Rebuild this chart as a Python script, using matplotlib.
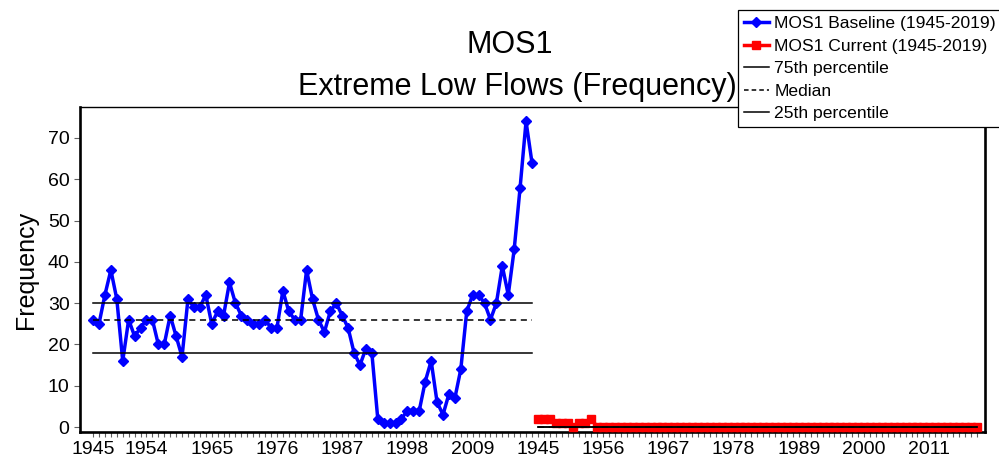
import numpy as np
import matplotlib
matplotlib.use("Agg")
import matplotlib.pyplot as plt
from matplotlib.lines import Line2D

plt.rcParams['font.family'] = ['Liberation Sans', 'DejaVu Sans']

# Datos: frecuencia anual de caudales extremos bajos (1945-2019)
years = list(range(1945, 2020))
baseline = [26, 25, 32, 38, 31, 16, 26, 22, 24, 26, 26, 20, 20, 27, 22, 17, 31, 29, 29, 32, 25, 28, 27, 35, 30,
            27, 26, 25, 25, 26, 24, 24, 33, 28, 26, 26, 38, 31, 26, 23, 28, 30, 27, 24, 18, 15, 19, 18, 2, 1,
            1, 1, 2, 4, 4, 4, 11, 16, 6, 3, 8, 7, 14, 28, 32, 32, 30, 26, 30, 39, 32, 43, 58, 74, 64]
current = [2, 2, 2, 1, 1, 1, 0, 1, 1, 2, 0, 0, 0, 0, 0, 0, 0, 0, 0, 0, 0, 0, 0, 0, 0,
           0, 0, 0, 0, 0, 0, 0, 0, 0, 0, 0, 0, 0, 0, 0, 0, 0, 0, 0, 0, 0, 0, 0, 0, 0,
           0, 0, 0, 0, 0, 0, 0, 0, 0, 0, 0, 0, 0, 0, 0, 0, 0, 0, 0, 0, 0, 0, 0, 0, 0]
base_tick_years = [1945, 1954, 1965, 1976, 1987, 1998, 2009]
cur_tick_years = [1945, 1956, 1967, 1978, 1989, 2000, 2011]

n = len(years)
x_base = np.arange(n)
x_cur = np.arange(n, 2 * n)

fig = plt.figure(figsize=(9.99, 4.70), dpi=100)
ax = fig.add_axes([0.0801, 0.0809, 0.906, 0.6915])

ax.plot(x_base, baseline, color='#0000ff', lw=2.5, marker='D', ms=5, zorder=3)
ax.plot(x_cur, current, color='#ff0000', lw=2.5, marker='s', ms=6, zorder=3)

# Percentiles de cada serie
for xs, vals in [(x_base, baseline), (x_cur, current)]:
    p25, p50, p75 = np.percentile(vals, [25, 50, 75])
    ax.plot([xs[0], xs[-1]], [p75, p75], color='black', lw=1.1, zorder=4)
    ax.plot([xs[0], xs[-1]], [p50, p50], color='black', lw=1.1, ls=(0, (4, 3)), zorder=4)
    ax.plot([xs[0], xs[-1]], [p25, p25], color='black', lw=1.1, zorder=4)

ax.set_xlim(-2.2, 2 * n + 0.4)
ax.set_ylim(-1.2, 77.5)
ax.set_yticks(range(0, 80, 10))

tick_pos = [years.index(y) for y in base_tick_years] + [n + years.index(y) for y in cur_tick_years]
ax.set_xticks(tick_pos)
ax.set_xticklabels([str(y) for y in base_tick_years + cur_tick_years])
ax.set_xticks(np.arange(2 * n), minor=True)

ax.tick_params(axis='both', which='both', direction='out', color='#606060', width=0.8)
ax.tick_params(axis='x', which='both', length=3.6, pad=3, labelsize=14)
ax.tick_params(axis='y', length=4.5, pad=3, labelsize=14)

for side in ['left', 'bottom', 'right']:
    ax.spines[side].set_linewidth(1.9)
ax.spines['top'].set_linewidth(1.0)

ax.set_ylabel('Frequency', fontsize=18)
ax.yaxis.set_label_coords(-0.046, 0.5)

fig.text(0.5105, 0.887, 'MOS1', ha='center', va='baseline', fontsize=22)
fig.text(0.5175, 0.798, 'Extreme Low Flows (Frequency)', ha='center', va='baseline', fontsize=22)

handles = [
    Line2D([], [], color='#0000ff', lw=2.5, marker='D', ms=5),
    Line2D([], [], color='#ff0000', lw=2.5, marker='s', ms=6),
    Line2D([], [], color='black', lw=1.1),
    Line2D([], [], color='black', lw=1.1, ls=(0, (3, 2))),
    Line2D([], [], color='black', lw=1.1),
]
labels = ['MOS1 Baseline (1945-2019)', 'MOS1 Current (1945-2019)',
          '75th percentile', 'Median', '25th percentile']
leg = fig.legend(handles, labels, loc='upper left', bbox_to_anchor=(738 / 999, 1 - 10 / 470),
                 fontsize=12.6, fancybox=False, edgecolor='black', framealpha=1,
                 borderpad=0.33, handlelength=1.45, handletextpad=0.3, labelspacing=0.42,
                 borderaxespad=0, numpoints=1)
leg.get_frame().set_linewidth(0.9)

fig.savefig('out.png', dpi=100)
